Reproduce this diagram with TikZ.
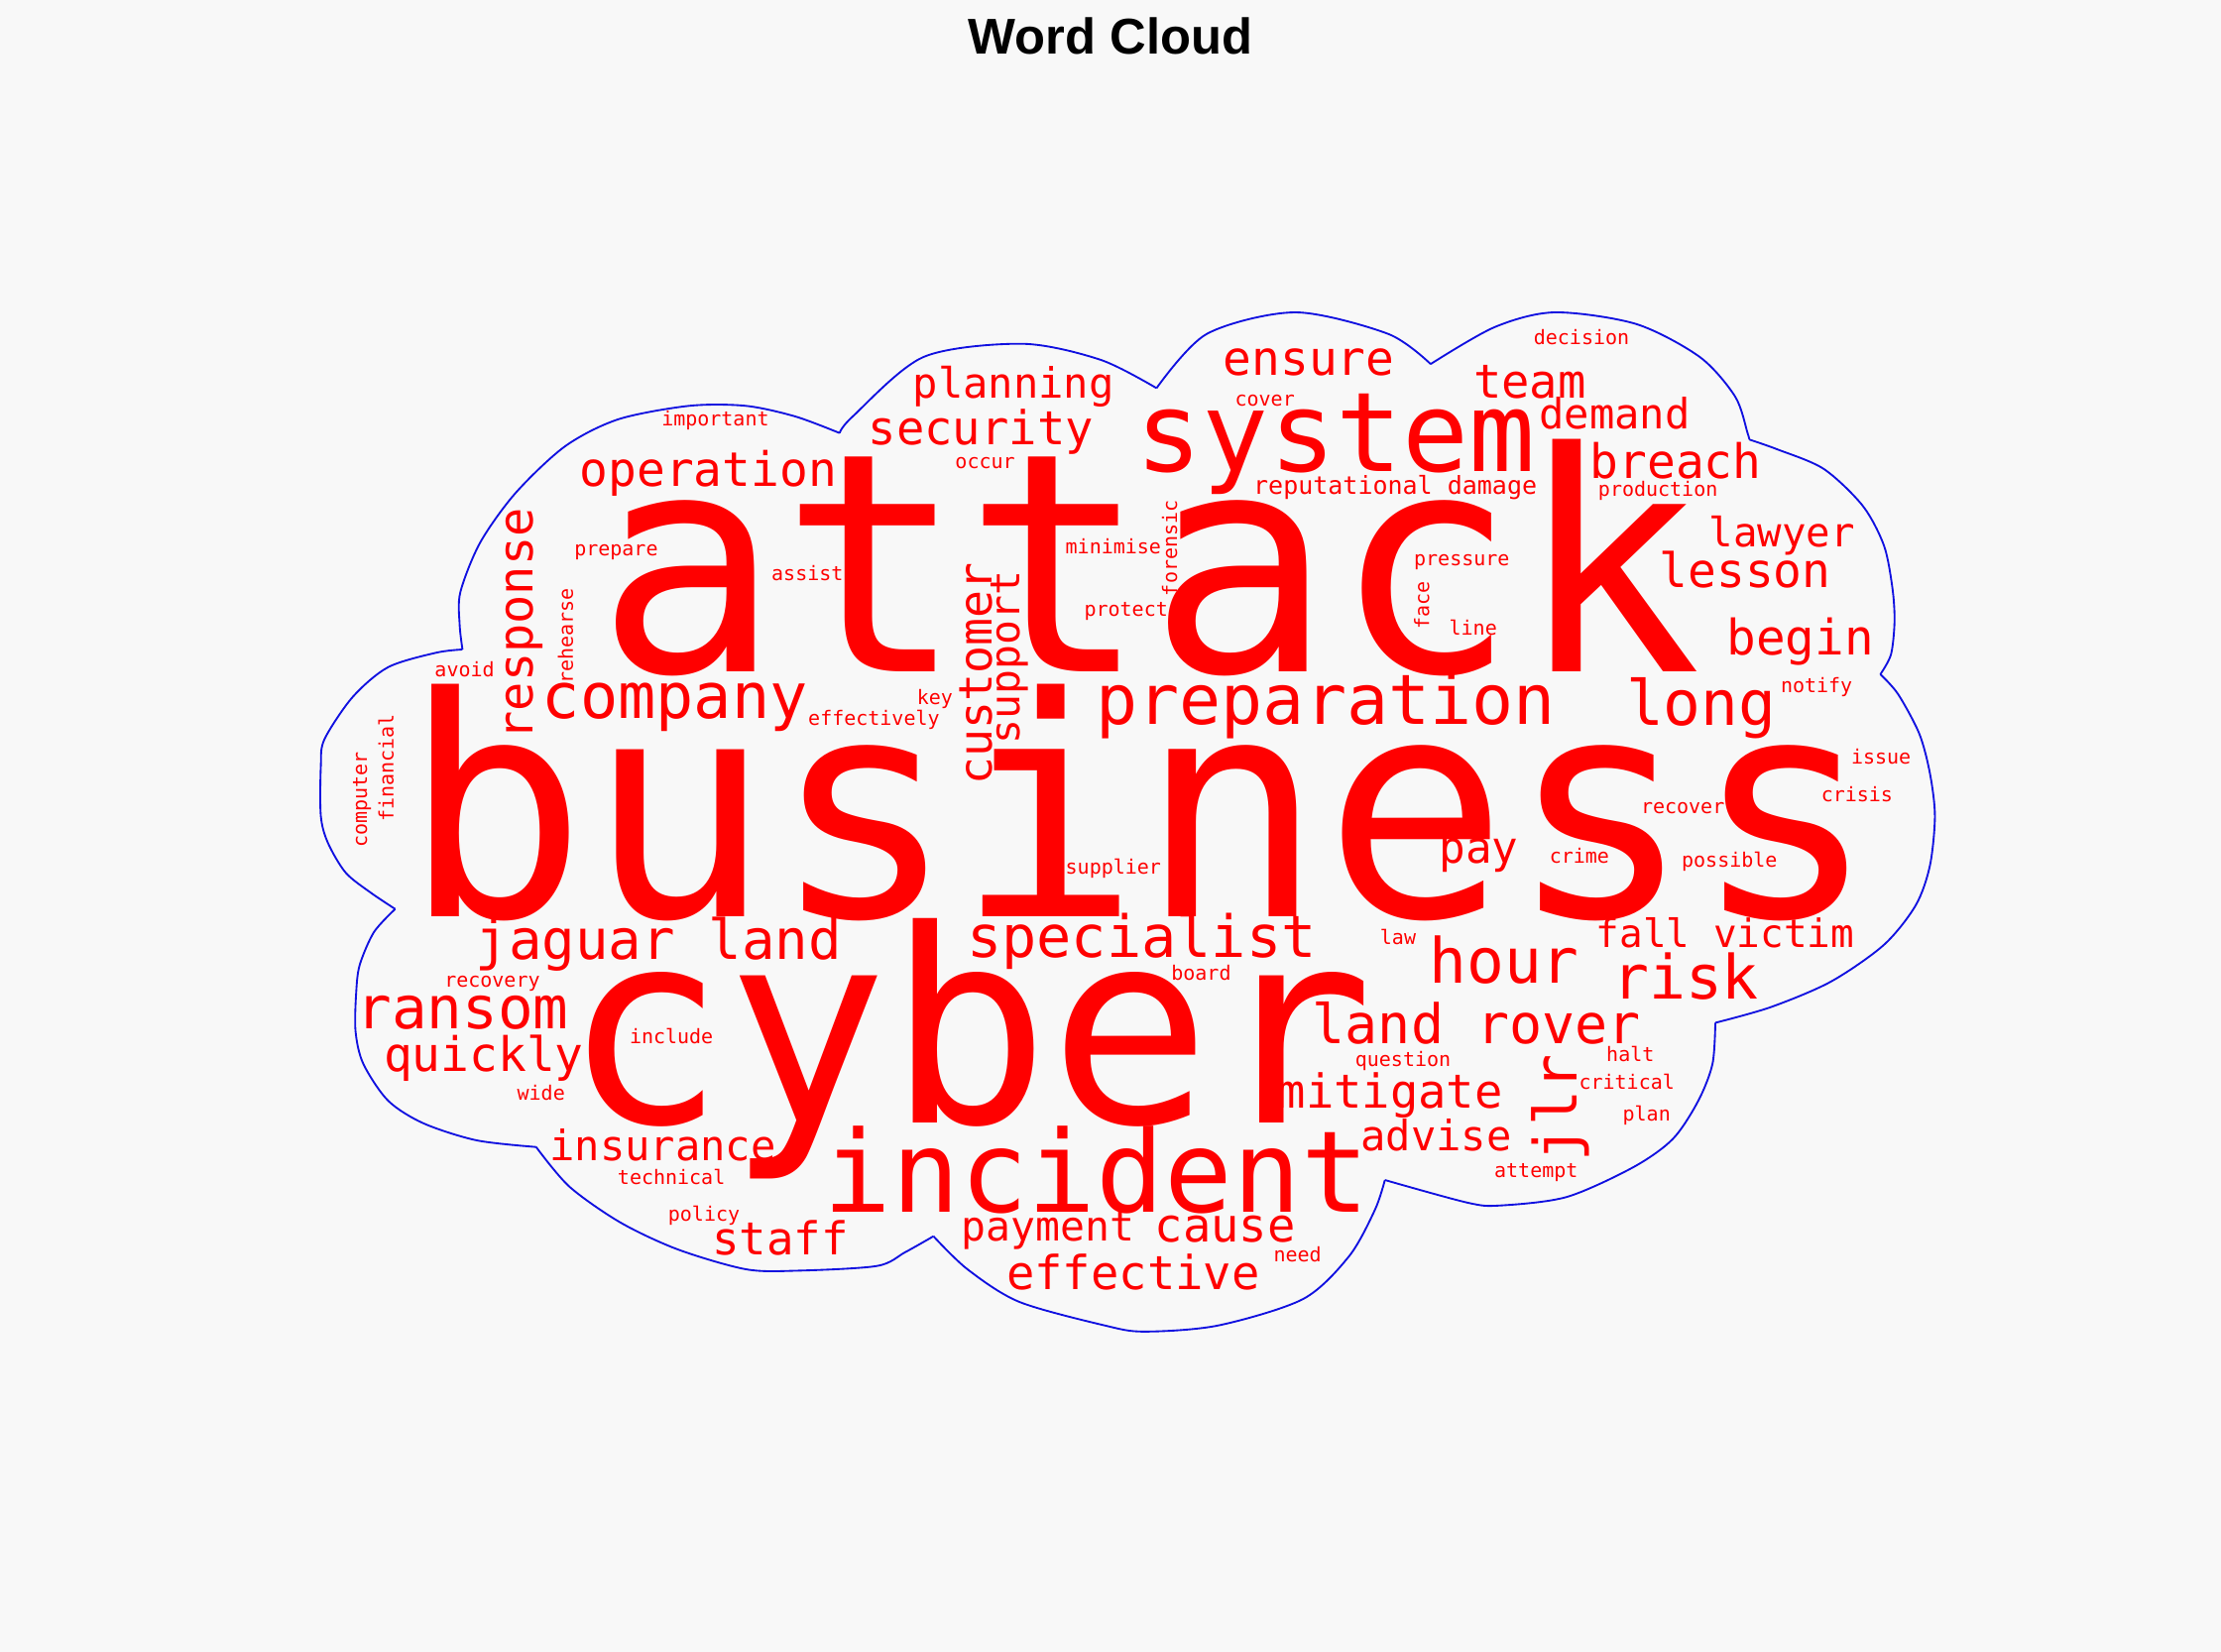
\documentclass[tikz,border=0pt]{standalone}
\usepackage{fontspec}
\setmainfont{Liberation Sans}
\newfontfamily\cloudfont{DejaVu Sans Mono}
\definecolor{wordred}{HTML}{FF0000}
\definecolor{cloudblue}{HTML}{1010E0}
\definecolor{paper}{HTML}{F8F8F8}
\tikzset{
  word/.style={text=wordred, inner sep=0pt, anchor=base, font={\cloudfont\fontsize{#1}{#1}\selectfont}},
  upword/.style={word=#1, rotate=90},
  cloudline/.style={draw=cloudblue, line width=1.3pt, line join=round}
}
\begin{document}
\begin{tikzpicture}[x=1pt, y=-1pt]
  \fill[paper] (0,0) rectangle (1568,1166);
  \useasboundingbox (0,0) rectangle (1568,1166);
  \node[anchor=base, font=\bfseries\fontsize{35.5}{35.5}\selectfont] (title) at (784,38.5) {Word Cloud};
  % notches of the cloud
  \coordinate (n1) at (326.5,458.5);
  \coordinate (n2) at (592.75,305.7);
  \coordinate (n3) at (816.5,274);
  \coordinate (n4) at (1010,257);
  \coordinate (n5) at (1235,310.3);
  \coordinate (n6) at (1327.5,476);
  \coordinate (n7) at (1211,722);
  \coordinate (n8) at (977.7,833);
  \coordinate (n9) at (659,872.7);
  \coordinate (n10) at (378.5,809.7);
  \coordinate (n11) at (279,641.7);
  \draw[cloudline] plot[smooth, tension=0.5] coordinates {(n1) (324.5,441) (325,418) (339,383) (364,348) (399,315) (436.5,296) (486.5,286.5) (526.5,286.5) (561.5,294) (n2)};
  \draw[cloudline] plot[smooth, tension=0.5] coordinates {(n2) (602,294) (652,252) (722,242.7) (777,254) (n3)};
  \draw[cloudline] plot[smooth, tension=0.5] coordinates {(n3) (852,235.7) (914.5,220.5) (980,235.7) (n4)};
  \draw[cloudline] plot[smooth, tension=0.5] coordinates {(n4) (1055,231) (1097.5,220.5) (1155,228.7) (1200,252) (1225,280) (1233.75,305.7) (n5)};
  \draw[cloudline] plot[smooth, tension=0.5] coordinates {(n5) (1255,317.3) (1287.5,331) (1315,357) (1330,385) (1336,415) (1337.5,438.7) (1335,462) (n6)};
  \draw[cloudline] plot[smooth, tension=0.5] coordinates {(n6) (1340,490) (1355,518) (1362.5,546) (1366,576) (1362.5,611) (1352.5,639) (1330,667) (1292.5,693) (1250,711) (n7)};
  \draw[cloudline] plot[smooth, tension=0.5] coordinates {(n7) (1209,751) (1199,777) (1181,804) (1153,824) (1106,845) (1059,851) (1036,849) (n8)};
  \draw[cloudline] plot[smooth, tension=0.5] coordinates {(n8) (970.7,854) (952.5,886.7) (920,917) (860,935.7) (808,940) (780,935.7) (719.5,919) (683,896) (n9)};
  \draw[cloudline] plot[smooth, tension=0.5] coordinates {(n9) (639,884) (619,893.7) (563,897) (526.6,896) (478.5,882) (438,863) (402,837.7) (n10)};
  \draw[cloudline] plot[smooth, tension=0.5] coordinates {(n10) (336.5,805) (299,793) (274,777) (256.5,751) (251,728) (251.5,700) (254,681) (264,658) (n11)};
  \draw[cloudline] plot[smooth, tension=0.5] coordinates {(n11) (261.5,630) (244,616) (231.5,595) (226.5,576) (226.5,541) (229,522) (249,492) (274,471) (307.75,460.8) (n1)};
  % big words
  \node[word=216] (attack) at (811,474) {attack};
  \node[word=216] (business) at (805,647) {business};
  \node[word=190] (cyber) at (684,793) {cyber};
  \node[word=78] (system) at (943,333) {system};
  \node[word=80] (incident) at (774,856) {incident};
  \node[word=49] (preparation) at (936,511) {preparation};
  \node[word=41] (specialist) at (806,675.5) {specialist};
  \node[word=39] (jaguar) at (465,677) {jaguar land};
  \node[word=38.5] (rover) at (1042.5,737) {land rover};
  \node[word=44.5] (company) at (476.5,507) {company};
  \node[word=44] (long) at (1201,512) {long};
  \node[word=44] (hour) at (1062,694) {hour};
  \node[word=43] (risk) at (1190,705) {risk};
  \node[word=41.5] (ransom) at (326.5,726) {ransom};
  \node[upword=42] (jlr) at (1113,782) {jlr};
  \node[upword=34] (response) at (376.5,440.5) {response};
  \node[upword=32.5] (customer) at (700,475.5) {customer};
  \node[upword=29] (support) at (720,464) {support};
  % middle words
  \node[word=33] (security) at (692.5,314) {security};
  \node[word=29.5] (planning) at (715.5,281) {planning};
  \node[word=33.5] (operation) at (500,343) {operation};
  \node[word=33.5] (ensure) at (924,265) {ensure};
  \node[word=33] (team) at (1080,281) {team};
  \node[word=29.5] (demand) at (1140,303) {demand};
  \node[word=33.5] (breach) at (1183,338) {breach};
  \node[word=28.5] (lawyer) at (1258,386) {lawyer};
  \node[word=33.5] (lesson) at (1232,415) {lesson};
  \node[word=34.5] (begin) at (1271,462) {begin};
  \node[word=31] (pay) at (1044,609) {pay};
  \node[word=27.5] (fall) at (1218,669) {fall victim};
  \node[word=33] (mitigate) at (981.5,782) {mitigate};
  \node[word=29.5] (advise) at (1014,812) {advise};
  \node[word=33.5] (quickly) at (341.5,756) {quickly};
  \node[word=29.5] (insurance) at (468,819) {insurance};
  \node[word=32] (staff) at (551,886) {staff};
  \node[word=29] (payment) at (740,876) {payment};
  \node[word=33] (cause) at (865,877) {cause};
  \node[word=33] (effective) at (800,910) {effective};
  \node[word=17.5] (damage) at (985,349) {reputational damage};
  % small words
  \foreach \w/\x/\y in {decision/1116.5/243, cover/893/287, important/505/301, occur/695.5/330.6,
      production/1170.5/350, prepare/435/392, assist/570/409.5, minimise/786/391, protect/795/435,
      pressure/1032/399, line/1040/448, notify/1282.5/489, avoid/328/478, key/660/497,
      effectively/617/512, issue/1328/539, crisis/1311/566, recover/1188/574, crime/1115/609,
      possible/1221/612, supplier/786/617, law/987/667, board/848/692, recovery/347.5/696.5,
      include/474/737, question/990.5/752.5, halt/1151/749, critical/1148.5/769, plan/1162.5/791,
      wide/382/776.5, attempt/1084.5/831, technical/474/836, policy/497/862, need/916/891}
    \node[word=14] (\w) at (\x,\y) {\w};
  \foreach \w/\x/\y in {rehearse/404.5/449, forensic/831/387, face/1009/427.5,
      financial/277.75/542, computer/259/564.5}
    \node[upword=14] (\w) at (\x,\y) {\w};
\end{tikzpicture}
\end{document}
